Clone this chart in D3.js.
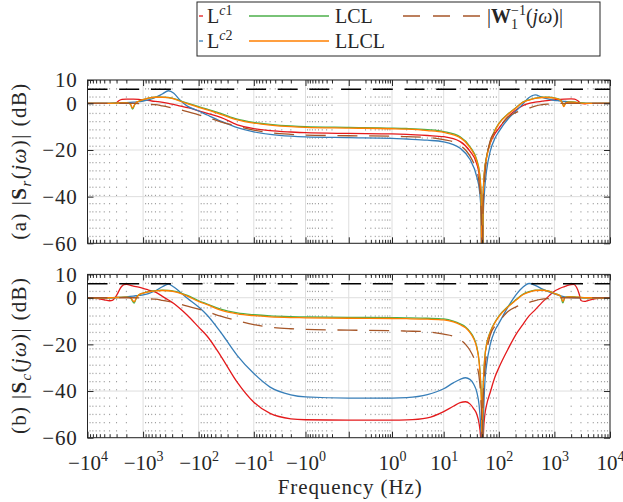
<!DOCTYPE html>
<html><head><meta charset="utf-8">
<script src="https://cdn.jsdelivr.net/npm/d3@7"></script>
<style>
body{margin:0;background:#fff;}
svg text{font-family:"Liberation Serif","DejaVu Serif",serif !important;fill:#262626;}
</style></head><body>
<svg id="chart" width="623" height="502"></svg>
<script>
// ---------------- data (frequency in Hz, magnitude in dB) ----------------
const majorTicks = [-1e4,-1e3,-1e2,-1e1,-1,0,1,10,100,1000,1e4];
const tickMantissa = ["−10","−10","−10","−10","−10","","10","10","10","10","10"];
const tickExponent = ["4","3","2","1","0","","0","1","2","3","4"];
const yTicks = [10,0,-20,-40,-60];
const limitDB = 6;

const seriesNames = ["Lc1","Lc2","LCL","LLCL","W1inv"];
const seriesColors = ["#e41a1c","#377eb8","#4daf4a","#ff7f00","#a65628"];

// Panel (a): |S_r(jw)|
const Sr_Lc1 = [[-10000,0],[-5000,0],[-4000,0],[-3300,0],[-3000,0.3],[-2700,1.2],[-2400,1.7],[-2000,1.8],[-1500,1.8],[-1200,1.7],[-1000,1.5],[-700,1.0],[-500,0.6],[-350,0.0],[-250,-0.8],[-200,-1.3],[-150,-2.0],[-100,-3.2],[-70,-4.3],[-40,-6],[-20,-9.2],[-10,-10.8],[-5,-11.7],[-2,-12.3],[-1,-12.6],[0,-12.9],[1,-13.1],[2,-13.3],[5,-13.8],[10,-14.3],[20,-16.4],[30,-20.5],[40,-26],[45,-32],[48,-42],[50,-100],[52,-42],[55,-30],[60,-23],[70,-17],[85,-13],[100,-10.7],[150,-5.5],[200,-3],[270,-1],[350,0],[450,0.5],[600,0.9],[800,1.3],[1000,1.5],[1500,1.8],[2000,1.9],[2300,1.8],[2600,1.2],[3000,0],[3500,-0.2],[4000,0],[10000,0]];
const Sr_Lc2 = [[-10000,0],[-4000,0],[-3000,0.1],[-2000,0.3],[-1500,0.5],[-1200,0.7],[-1000,1.0],[-800,1.5],[-600,2.5],[-450,4.0],[-350,5.4],[-280,4.3],[-220,1.5],[-160,-1.2],[-100,-3.3],[-70,-5.0],[-40,-7.6],[-20,-10.4],[-10,-12.2],[-5,-13.3],[-2,-14.1],[-1,-14.4],[0,-14.7],[1,-15.0],[2,-15.3],[5,-15.8],[10,-16.5],[20,-19.3],[30,-24],[40,-31.5],[45,-38],[48,-48],[50,-100],[52,-50],[55,-38],[60,-29],[70,-20.5],[85,-15],[100,-12.1],[150,-6.4],[200,-3.5],[270,-0.3],[350,2.5],[450,3.6],[600,2.6],[800,1.8],[1000,1.3],[1200,1.1],[1600,0.8],[2000,0.5],[3000,0.2],[4000,0],[10000,0]];
const Sr_LCL = [[-10000,0],[-4000,0],[-3000,0.1],[-2000,0.2],[-1700,-0.3],[-1550,-2.5],[-1400,-0.3],[-1200,0.9],[-1000,1.6],[-800,2.2],[-600,2.6],[-450,2.7],[-350,2.5],[-280,2.0],[-220,1.2],[-160,0.1],[-100,-1.4],[-70,-2.5],[-40,-4.3],[-20,-6.8],[-10,-8.2],[-5,-9.0],[-2,-9.7],[-1,-10.0],[0,-10.3],[1,-10.6],[2,-10.8],[5,-11.3],[10,-12.1],[20,-14.3],[30,-18.5],[40,-24.3],[45,-30],[48,-40],[50,-100],[52,-40],[55,-29],[60,-23],[70,-16.5],[85,-11.5],[100,-8.6],[150,-4.3],[200,-2],[270,0.5],[350,1.5],[450,2.2],[600,2.6],[800,2.6],[1000,2.3],[1200,1.8],[1350,0.8],[1480,-1.0],[1600,0.2],[1800,0.6],[2000,0.6],[2500,0.4],[3000,0.2],[4000,0],[10000,0]];
const Sr_LLCL = [[-10000,0],[-4000,0],[-3000,0.1],[-2000,0.2],[-1700,-0.2],[-1550,-2.0],[-1400,-0.2],[-1200,0.9],[-1000,1.6],[-800,2.2],[-600,2.6],[-450,2.6],[-350,2.4],[-280,1.9],[-220,1.0],[-160,-0.1],[-100,-1.7],[-70,-2.8],[-40,-4.7],[-20,-7.1],[-10,-8.5],[-5,-9.3],[-2,-10.0],[-1,-10.3],[0,-10.6],[1,-10.9],[2,-11.1],[5,-11.7],[10,-12.5],[20,-14.7],[30,-18.9],[40,-24.8],[45,-30.5],[48,-41],[50,-100],[52,-41],[55,-29.5],[60,-23.5],[70,-16.8],[85,-11.8],[100,-8.8],[150,-4.5],[200,-2.1],[270,0.4],[350,1.4],[450,2.1],[600,2.5],[800,2.5],[1000,2.2],[1200,1.7],[1350,0.7],[1480,-1.4],[1600,0.1],[1800,0.5],[2000,0.5],[2500,0.3],[3000,0.1],[4000,0],[10000,0]];
// |W1^-1(jw)| weighting (same in both panels)
const W1inv = [[-10000,0],[-1500,0],[-1000,-0.2],[-800,-0.4],[-600,-0.6],[-450,-1.1],[-350,-1.6],[-280,-2.1],[-220,-2.7],[-160,-3.6],[-100,-4.9],[-70,-6],[-40,-7.9],[-20,-9.8],[-10,-11.5],[-5,-12.6],[-2,-13.3],[-1,-13.6],[0,-13.9],[1,-14.1],[2,-14.3],[5,-14.6],[10,-15.6],[15,-16.5],[20,-18],[25,-20],[30,-22.5],[35,-25.5],[40,-29],[44,-34],[47,-42],[49,-52],[50,-100],[51,-52],[53,-40],[56,-31],[60,-24],[70,-16],[85,-12.2],[100,-10.3],[150,-5.7],[200,-4],[270,-2.8],[350,-2],[450,-1.2],[600,-0.6],[800,-0.3],[1000,-0.1],[1200,0],[10000,0]];

// Panel (b): |S_c(jw)|
const Sc_Lc1 = [[-10000,0],[-7000,-0.3],[-5000,-0.9],[-4000,-1.3],[-3500,-1.0],[-3000,1.0],[-2500,4.5],[-2200,5.6],[-2000,5.7],[-1800,5.5],[-1500,5.0],[-1200,4.5],[-1000,4.0],[-800,3.3],[-600,2.4],[-450,0.6],[-350,-1.0],[-280,-2.5],[-220,-4.5],[-160,-7.5],[-100,-12.6],[-70,-16.5],[-40,-24.9],[-20,-36.3],[-10,-44.8],[-5,-49.6],[-2,-51.9],[-1,-52.3],[0,-52.5],[1,-52.5],[2,-52.4],[5,-51.5],[10,-48.8],[15,-46.5],[20,-45],[25,-44.6],[30,-45.5],[35,-47.5],[40,-50],[44,-54],[47,-60],[49,-70],[50,-100],[51,-70],[53,-57],[56,-50],[60,-46],[70,-40.5],[85,-34],[100,-30],[150,-21.5],[200,-16],[270,-11.5],[350,-7.8],[450,-5.2],[600,-2],[800,0.8],[1000,2.8],[1200,3.8],[1400,4.5],[1600,5.0],[1800,5.4],[2000,5.6],[2200,5.7],[2500,4.5],[2800,1.5],[3000,-1.2],[3500,-1.6],[4000,-1.2],[5000,-0.6],[7000,-0.1],[10000,0]];
const Sc_Lc2 = [[-10000,0],[-4000,0],[-3000,0.1],[-2000,0.4],[-1500,0.7],[-1200,1.0],[-1000,1.2],[-800,1.8],[-600,3.0],[-450,4.7],[-350,5.8],[-280,4.6],[-220,2.6],[-160,-0.2],[-100,-4.0],[-70,-7.5],[-40,-14.8],[-20,-24.8],[-10,-32.5],[-5,-38.3],[-2,-41.6],[-1,-42.5],[0,-43],[1,-43],[2,-42.8],[5,-41.5],[10,-39],[15,-36.5],[20,-35],[25,-34.3],[30,-35],[35,-37],[40,-40.5],[44,-46],[47,-55],[49,-65],[50,-100],[51,-65],[53,-50],[56,-36],[60,-29],[70,-20],[85,-14],[100,-11],[150,-3.5],[200,1.0],[270,4.5],[350,6.1],[450,5.3],[600,3.8],[800,2.5],[1000,1.6],[1200,1.0],[1600,0.3],[2000,0.1],[3000,0],[10000,0]];
const Sc_LCL = [[-10000,0],[-4000,0],[-3000,0.1],[-2000,0.3],[-1700,0.0],[-1450,-2.3],[-1300,0.3],[-1200,1.2],[-1000,2.0],[-800,2.6],[-600,3.0],[-450,3.2],[-350,3.1],[-280,2.8],[-220,2.2],[-160,1.0],[-100,-1.3],[-70,-2.7],[-40,-4.9],[-20,-6.5],[-10,-7.3],[-5,-7.8],[-2,-8.1],[-1,-8.2],[0,-8.4],[1,-8.5],[2,-8.6],[5,-8.8],[10,-9.1],[15,-10],[20,-11.2],[25,-12.5],[30,-14.5],[35,-17],[40,-21],[44,-27],[47,-36],[49,-48],[50,-100],[51,-48],[53,-34],[56,-25],[60,-20],[70,-14.6],[85,-10.5],[100,-7.9],[150,-3.5],[200,-1],[270,1.5],[350,2.6],[450,3.2],[600,3.3],[800,2.8],[1000,1.9],[1200,1.2],[1300,0.6],[1420,-2.2],[1550,0.2],[1800,0.5],[2000,0.5],[2500,0.3],[3000,0.1],[4000,0],[10000,0]];
const Sc_LLCL = [[-10000,0],[-4000,0],[-3000,0.1],[-2000,0.3],[-1700,0.0],[-1450,-1.7],[-1300,0.3],[-1200,1.2],[-1000,2.0],[-800,2.5],[-600,2.9],[-450,3.1],[-350,3.0],[-280,2.6],[-220,2.0],[-160,0.7],[-100,-1.6],[-70,-3.0],[-40,-5.3],[-20,-6.9],[-10,-7.7],[-5,-8.2],[-2,-8.5],[-1,-8.6],[0,-8.8],[1,-8.9],[2,-9.0],[5,-9.2],[10,-9.5],[15,-10.4],[20,-11.6],[25,-12.9],[30,-14.9],[35,-17.5],[40,-21.5],[44,-27.5],[47,-37],[49,-49],[50,-100],[51,-49],[53,-34.5],[56,-25.5],[60,-20.3],[70,-14.9],[85,-10.7],[100,-8.1],[150,-3.7],[200,-1.2],[270,1.3],[350,2.4],[450,3.1],[600,3.2],[800,2.7],[1000,1.8],[1200,1.1],[1300,0.6],[1420,-1.6],[1550,0.1],[1800,0.4],[2000,0.4],[2500,0.2],[3000,0.1],[4000,0],[10000,0]];

// ---------------- layout ----------------
const FONT = "'Liberation Serif','DejaVu Serif',serif";
const svg = d3.select("#chart");
const xL = 87.5, xR = 610;
const panels = [
  {top:80, bottom:243.3, series:[Sr_Lc1,Sr_Lc2,Sr_LCL,Sr_LLCL,W1inv], label:"a", sub:"r", showX:false},
  {top:274.4, bottom:437.7, series:[Sc_Lc1,Sc_Lc2,Sc_LCL,Sc_LLCL,W1inv], label:"b", sub:"c", showX:true}
];
const x = d3.scaleSymlog().constant(0.2).domain([-1e4,1e4]).range([xL,xR]);
const minorTicks = [];
for (let k=-1;k<=3;k++) for (let m=2;m<=9;m++){ minorTicks.push(m*Math.pow(10,k)); minorTicks.push(-m*Math.pow(10,k)); }
minorTicks.sort((a,b)=>a-b);
const axisColor = "#262626";

panels.forEach((p,pi)=>{
  const y = d3.scaleLinear().domain([-60,10]).range([p.bottom,p.top]);
  const g = svg.append("g");
  const cid = "clip"+pi;
  svg.append("clipPath").attr("id",cid).append("rect")
    .attr("x",xL).attr("y",p.top).attr("width",xR-xL).attr("height",p.bottom-p.top);

  // minor grid (dotted, vertical)
  g.append("g").selectAll("line").data(minorTicks).join("line")
    .attr("x1",d=>x(d)).attr("x2",d=>x(d)).attr("y1",p.top).attr("y2",p.bottom)
    .attr("stroke","#9a9a9a").attr("stroke-width",1).attr("stroke-dasharray","1.3,6.9");
  // major grid
  g.append("g").selectAll("line").data(majorTicks).join("line")
    .attr("x1",d=>x(d)).attr("x2",d=>x(d)).attr("y1",p.top).attr("y2",p.bottom)
    .attr("stroke","#dedede").attr("stroke-width",1);
  g.append("g").selectAll("line").data(yTicks).join("line")
    .attr("x1",xL).attr("x2",xR).attr("y1",d=>y(d)).attr("y2",d=>y(d))
    .attr("stroke","#dedede").attr("stroke-width",1);

  // curves
  const line = d3.line().x(d=>x(d[0])).y(d=>y(d[1])).curve(d3.curveMonotoneX);
  const cg = g.append("g").attr("clip-path",`url(#${cid})`);
  p.series.forEach((s,i)=>{
    cg.append("path").datum(s).attr("d",line).attr("fill","none")
      .attr("stroke",seriesColors[i]).attr("stroke-width",1.3)
      .attr("stroke-dasharray", i===4 ? "20,11.7" : null);
  });
  // 6 dB limit line
  cg.append("line").attr("x1",xL).attr("x2",xR).attr("y1",y(limitDB)).attr("y2",y(limitDB))
    .attr("stroke","#000").attr("stroke-width",1.5).attr("stroke-dasharray","20,11.7");

  // axes (ticks inward)
  const axB = g.append("g").attr("transform",`translate(0,${p.bottom})`)
    .call(d3.axisBottom(x).tickValues(majorTicks).tickSize(-6).tickFormat(""));
  const axBm = g.append("g").attr("transform",`translate(0,${p.bottom})`)
    .call(d3.axisBottom(x).tickValues(minorTicks).tickSize(-3.5).tickFormat(""));
  const axT = g.append("g").attr("transform",`translate(0,${p.top})`)
    .call(d3.axisTop(x).tickValues(majorTicks).tickSize(-6).tickFormat(""));
  const axTm = g.append("g").attr("transform",`translate(0,${p.top})`)
    .call(d3.axisTop(x).tickValues(minorTicks).tickSize(-3.5).tickFormat(""));
  const axL = g.append("g").attr("transform",`translate(${xL},0)`)
    .call(d3.axisLeft(y).tickValues(yTicks).tickSize(-6).tickPadding(10).tickFormat(d=>d<0?"−"+Math.abs(d):d));
  const axR = g.append("g").attr("transform",`translate(${xR},0)`)
    .call(d3.axisRight(y).tickValues(yTicks).tickSize(-6).tickFormat(""));
  [axB,axBm,axT,axTm,axL,axR].forEach(a=>{
    a.attr("font-family",FONT);
    a.select(".domain").remove();
    a.selectAll("line").attr("stroke",axisColor);
  });
  axL.selectAll("text").attr("font-size",21).attr("fill",axisColor).attr("dy","0.33em")
    .attr("letter-spacing",0.8);
  g.append("rect").attr("x",xL).attr("y",p.top).attr("width",xR-xL).attr("height",p.bottom-p.top)
    .attr("fill","none").attr("stroke",axisColor).attr("stroke-width",1);

  // x tick labels (bottom panel only)
  if (p.showX){
    axB.selectAll(".tick").each(function(d,i){
      if (!tickMantissa[i]) return;
      const t = d3.select(this).append("text").attr("y",32.5).attr("text-anchor","middle")
        .attr("font-size",21).attr("fill",axisColor);
      t.append("tspan").text(tickMantissa[i]);
      t.append("tspan").attr("font-size",14).attr("dy",-9).text(tickExponent[i]);
    });
  }

  // y label
  const cy = (p.top+p.bottom)/2;
  const yl = svg.append("text").attr("transform",`translate(26,${cy}) rotate(-90)`)
    .attr("text-anchor","middle").attr("font-size",21).attr("font-family",FONT)
    .attr("textLength",156).attr("lengthAdjust","spacing");
  yl.append("tspan").text(`(${p.label}) |`);
  yl.append("tspan").attr("font-weight","bold").text("S");
  yl.append("tspan").attr("font-style","italic").attr("font-size",15).attr("dy",5).text(p.sub);
  yl.append("tspan").attr("dy",-5).text("(");
  yl.append("tspan").attr("font-style","italic").text("jω");
  yl.append("tspan").text(")| (dB)");
});

// x axis title
svg.append("text").attr("x",(xL+xR)/2+1).attr("y",494).attr("text-anchor","middle")
  .attr("font-size",21).attr("font-family",FONT)
  .attr("textLength",144).attr("lengthAdjust","spacing").text("Frequency (Hz)");

// ---------------- legend ----------------
const lg = svg.append("g").attr("font-family",FONT);
lg.append("rect").attr("x",197).attr("y",2).attr("width",403).attr("height",54)
  .attr("fill","#fff").attr("stroke",axisColor).attr("stroke-width",1);
const legendItems = [
  {i:0, x1:199, x2:203, tx:207, y:16},
  {i:1, x1:199, x2:203, tx:207, y:41},
  {i:2, x1:249, x2:329, tx:335, y:16},
  {i:3, x1:249, x2:329, tx:335, y:41},
  {i:4, x1:403, x2:480, tx:487, y:16}
];
legendItems.forEach(it=>{
  lg.append("line").attr("x1",it.x1).attr("x2",it.x2).attr("y1",it.y).attr("y2",it.y)
    .attr("stroke",seriesColors[it.i]).attr("stroke-width",1.3)
    .attr("stroke-dasharray", it.i===4 ? "17,13" : null);
  const t = lg.append("text").attr("x",it.tx).attr("y",it.y+7).attr("font-size",20);
  if (it.i===0 || it.i===1){
    t.append("tspan").text("L");
    t.append("tspan").attr("font-size",14).attr("dy",-8).attr("font-style","italic").text("c");
    t.append("tspan").attr("font-size",14).text(it.i===0?"1":"2");
  } else if (it.i===2){ t.text("LCL"); }
  else if (it.i===3){ t.text("LLCL"); }
  else {
    t.append("tspan").text("|");
    t.append("tspan").attr("font-weight","bold").text("W");
    t.append("tspan").attr("font-size",14).attr("dy",6).text("1");
    t.append("tspan").attr("font-size",14).attr("dy",-14).attr("dx",-7).text("−1");
    t.append("tspan").attr("dy",8).text("(");
    t.append("tspan").attr("font-style","italic").text("jω");
    t.append("tspan").text(")|");
  }
});
</script>
</body></html>
